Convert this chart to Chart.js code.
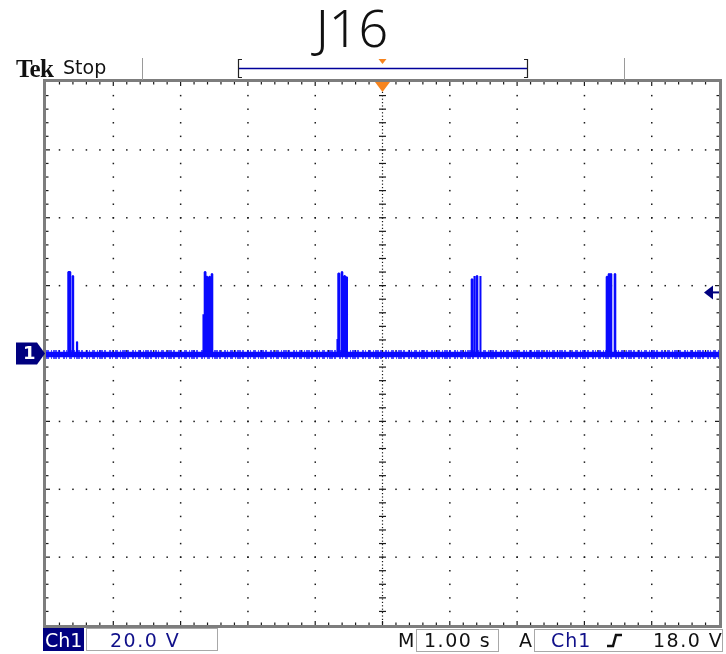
<!DOCTYPE html>
<html>
<head>
<meta charset="utf-8">
<script src="https://cdn.jsdelivr.net/npm/chart.js@4"></script>
<style>
  html, body { margin: 0; padding: 0; background: #fff; }
  #wrap { position: relative; width: 726px; height: 654px; overflow: hidden; }
  #scope { position: absolute; left: 0; top: 0; }
  .t { position: absolute; line-height: 1; white-space: nowrap; font-family: "DejaVu Sans", sans-serif; }
  .box { position: absolute; border: 1px solid #a8a8a8; box-sizing: border-box; }
</style>
</head>
<body>
<div id="wrap">
  <canvas id="scope" width="726" height="654"></canvas>

  <div class="t" style="left:252px; top:1px; width:200px; text-align:center; font-family:'Noto Sans', sans-serif; font-weight:300; font-size:52px; color:#111;">J16</div>
  <div class="t" style="left:16px; top:56px; font-family:'Liberation Serif', serif; font-weight:bold; font-size:25px; letter-spacing:-0.8px; color:#111;">Tek</div>
  <div class="t" style="left:63px; top:58px; font-size:19px; color:#111;">Stop</div>

  <div class="t" style="left:23px; top:344px; font-weight:bold; font-size:18px; color:#fff;">1</div>

  <div class="t" style="left:43px; top:628px; width:41px; height:23px; background:#00007f;"></div>
  <div class="t" style="left:45px; top:631px; font-size:19px; color:#fff;">Ch1</div>
  <div class="box" style="left:86px; top:628px; width:132px; height:23px;"></div>
  <div class="t" style="left:110px; top:631px; font-size:19px; letter-spacing:1.5px; color:#10108a;">20.0 V</div>

  <div class="t" style="left:398px; top:631px; font-size:19px; color:#111;">M</div>
  <div class="box" style="left:416px; top:629px; width:83px; height:23px;"></div>
  <div class="t" style="left:424px; top:631px; font-size:19px; letter-spacing:1.5px; color:#111;">1.00 s</div>

  <div class="t" style="left:519px; top:631px; font-size:19px; color:#111;">A</div>
  <div class="box" style="left:534px; top:629px; width:189px; height:23px;"></div>
  <div class="t" style="left:551px; top:631px; font-size:19px; letter-spacing:1px; color:#10108a;">Ch1</div>
  <div class="t" style="left:653px; top:631px; font-size:19px; letter-spacing:1.5px; color:#111;">18.0 V</div>
</div>

<script>
// horizontal: 1.00 s/div, 10 div ; vertical: 20.0 V/div, 8 div
const timeMin = -5, timeMax = 5;
const voltMin = -80, voltMax = 80;
const baselineVolts = -0.3;
const triggerVolts = 18.0;

// pulses (s, s, V)
const pulseStart = [-4.669, -4.603, -4.540, -2.663, -2.642, -2.612, -2.574, -2.538, -0.672, -0.657, -0.606, -0.568, -0.538, 1.325, 1.360, 1.400, 1.449, 3.331, 3.361, 3.391, 3.450];
const pulseEnd   = [-4.639, -4.596, -4.537, -2.659, -2.630, -2.603, -2.563, -2.529, -0.668, -0.642, -0.597, -0.557, -0.527, 1.334, 1.370, 1.409, 1.459, 3.340, 3.370, 3.400, 3.459];
const pulseTop   = [24.0, 22.8, 3.4, 11.6, 24.0, 22.6, 22.6, 23.4, 4.3, 23.6, 24.0, 22.8, 22.5, 21.9, 22.8, 22.8, 22.8, 22.6, 23.4, 23.4, 23.4];

const traceBlue = "#0a0aff";
const navy = "#00007f";
const orange = "#f7841e";

function buildTrace() {
  const pts = [{x: timeMin, y: baselineVolts}];
  pulseStart.forEach((s, i) => {
    pts.push({x: s, y: baselineVolts}, {x: s, y: pulseTop[i]}, {x: pulseEnd[i], y: pulseTop[i]}, {x: pulseEnd[i], y: baselineVolts});
  });
  pts.push({x: timeMax, y: baselineVolts});
  return pts;
}

const baseLine = [{x: timeMin, y: baselineVolts}, {x: timeMax, y: baselineVolts}];

// graticule, frame and screen markers
const scopePlugin = {
  id: "scope",
  beforeDatasetsDraw(chart) {
    const ctx = chart.ctx, xs = chart.scales.x, ys = chart.scales.y;
    const a = chart.chartArea;
    ctx.save();
    ctx.fillStyle = "#1a1a1a";
    // dotted major lines
    for (let t = -4; t <= 4; t++) {
      if (t === 0) continue;
      const px = xs.getPixelForValue(t);
      for (let v = voltMin + 4; v < voltMax; v += 4) {
        ctx.fillRect(px - 0.7, ys.getPixelForValue(v) - 0.7, 1.5, 1.5);
      }
    }
    for (let v = -60; v <= 60; v += 20) {
      if (v === 0) continue;
      const py = ys.getPixelForValue(v);
      for (let t = timeMin + 0.2; t < timeMax - 0.01; t += 0.2) {
        ctx.fillRect(xs.getPixelForValue(t) - 0.7, py - 0.7, 1.5, 1.5);
      }
    }
    // centre cross with fine ticks
    const cx = xs.getPixelForValue(0), cy = ys.getPixelForValue(0);
    for (let py = a.top + 3; py < a.bottom; py += 3.4) ctx.fillRect(cx - 0.6, py, 1.2, 1.2);
    for (let px = a.left + 3; px < a.right; px += 3.4) ctx.fillRect(px, cy - 0.6, 1.2, 1.2);
    for (let v = voltMin + 4; v < voltMax; v += 4) {
      const py = ys.getPixelForValue(v);
      ctx.fillRect(cx - 3.5, py - 0.6, 7, 1.2);
    }
    for (let t = timeMin + 0.2; t < timeMax - 0.01; t += 0.2) {
      const px = xs.getPixelForValue(t);
      ctx.fillRect(px - 0.6, cy - 3.5, 1.2, 7);
    }
    // ticks on the inside of the frame
    for (let t = timeMin + 0.2; t < timeMax - 0.01; t += 0.2) {
      const px = xs.getPixelForValue(t);
      const len = Math.abs(t - Math.round(t)) < 0.01 ? 4 : 2.5;
      ctx.fillRect(px - 0.6, a.top, 1.2, len);
      ctx.fillRect(px - 0.6, a.bottom - len, 1.2, len);
    }
    for (let v = voltMin + 4; v < voltMax; v += 4) {
      const py = ys.getPixelForValue(v);
      const len = v % 20 === 0 ? 4 : 2.5;
      ctx.fillRect(a.left, py - 0.6, len, 1.2);
      ctx.fillRect(a.right - len, py - 0.6, len, 1.2);
    }
    ctx.restore();
  },
  afterDatasetsDraw(chart) {
    const ctx = chart.ctx, xs = chart.scales.x, ys = chart.scales.y;
    const a = chart.chartArea;
    ctx.save();
    // frame
    ctx.strokeStyle = "#7d7d7d";
    ctx.lineWidth = 3;
    ctx.strokeRect(a.left - 1.5, a.top - 1.5, a.right - a.left + 3, a.bottom - a.top + 3);

    // header separators
    ctx.strokeStyle = "#9a9a9a";
    ctx.lineWidth = 1;
    [142.5, 624.5].forEach(x => { ctx.beginPath(); ctx.moveTo(x, 58); ctx.lineTo(x, 80); ctx.stroke(); });

    // record bar
    ctx.strokeStyle = "#00009a";
    ctx.lineWidth = 1.5;
    ctx.beginPath(); ctx.moveTo(239, 68.5); ctx.lineTo(527, 68.5); ctx.stroke();
    ctx.strokeStyle = "#222";
    ctx.lineWidth = 1.2;
    ctx.beginPath();
    ctx.moveTo(242, 59.5); ctx.lineTo(238.5, 59.5); ctx.lineTo(238.5, 77.5); ctx.lineTo(242, 77.5);
    ctx.moveTo(524, 59.5); ctx.lineTo(527.5, 59.5); ctx.lineTo(527.5, 77.5); ctx.lineTo(524, 77.5);
    ctx.stroke();

    // trigger position markers
    const cx = xs.getPixelForValue(0);
    ctx.fillStyle = orange;
    ctx.beginPath(); ctx.moveTo(cx - 4, 59); ctx.lineTo(cx + 4, 59); ctx.lineTo(cx, 64); ctx.closePath(); ctx.fill();
    ctx.beginPath(); ctx.moveTo(cx - 7.5, a.top); ctx.lineTo(cx + 7.5, a.top); ctx.lineTo(cx, a.top + 10); ctx.closePath(); ctx.fill();

    // ground marker
    const gy = ys.getPixelForValue(0);
    ctx.fillStyle = navy;
    ctx.beginPath();
    ctx.moveTo(16, gy - 11); ctx.lineTo(37, gy - 11); ctx.lineTo(45, gy); ctx.lineTo(37, gy + 11); ctx.lineTo(16, gy + 11);
    ctx.closePath(); ctx.fill();

    // trigger level arrow
    const ty = ys.getPixelForValue(triggerVolts);
    ctx.beginPath(); ctx.moveTo(704, ty); ctx.lineTo(713, ty - 7); ctx.lineTo(713, ty + 7); ctx.closePath(); ctx.fill();
    ctx.fillRect(712, ty - 1, 7, 2);

    // rising edge symbol
    ctx.strokeStyle = "#111";
    ctx.lineWidth = 2.5;
    ctx.beginPath(); ctx.moveTo(607, 646); ctx.lineTo(613, 646); ctx.lineTo(616, 635); ctx.lineTo(622, 635); ctx.stroke();
    ctx.restore();
  }
};

const chart = new Chart(document.getElementById("scope").getContext("2d"), {
  type: "line",
  data: {
    datasets: [
      { data: baseLine, borderColor: "rgba(10,10,255,0.7)", borderWidth: 9, borderDash: [3, 2, 1, 1, 4, 1, 2, 3, 2, 1, 1, 2], pointRadius: 0 },
      { data: baseLine, borderColor: traceBlue, borderWidth: 5.5, pointRadius: 0 },
      { data: buildTrace(), borderColor: traceBlue, borderWidth: 2, borderJoinStyle: "bevel", pointRadius: 0, tension: 0 }
    ]
  },
  options: {
    responsive: false,
    animation: false,
    events: [],
    layout: { padding: { left: 46, top: 82, right: 7, bottom: 29 } },
    plugins: { legend: { display: false }, tooltip: { enabled: false } },
    scales: {
      x: { type: "linear", display: false, min: timeMin, max: timeMax },
      y: { type: "linear", display: false, min: voltMin, max: voltMax }
    }
  },
  plugins: [scopePlugin]
});
</script>
</body>
</html>
